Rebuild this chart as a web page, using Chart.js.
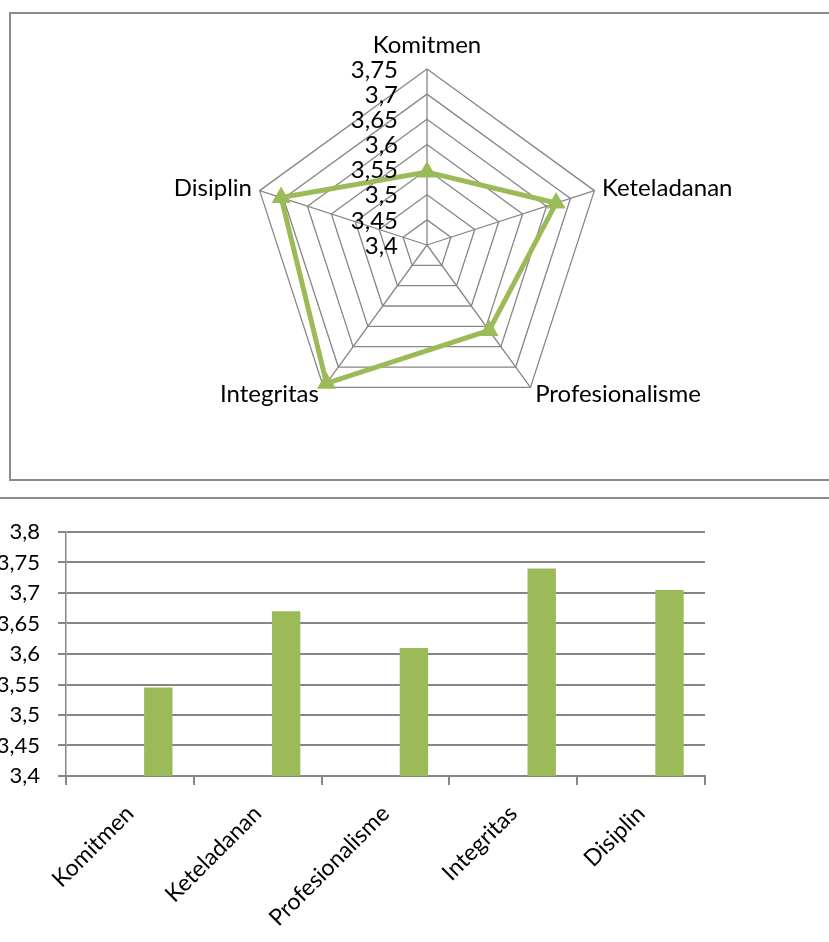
<!DOCTYPE html>
<html>
<head>
<meta charset="utf-8">
<script src="https://cdn.jsdelivr.net/npm/chart.js@4.4.1/dist/chart.umd.min.js"></script>
<style>
  body { margin: 0; background: #fff; width: 829px; height: 942px; overflow: hidden; position: relative; }
  #radarBox { position: absolute; left: 9px; top: 12px; width: 840px; height: 469px; border: 2px solid #8c8c8c; box-sizing: border-box; }
  #barLine { position: absolute; left: 0; top: 497px; width: 829px; border-top: 2px solid #8c8c8c; }
  #radarChart { position: absolute; left: 0; top: 0; }
  #barChart { position: absolute; left: 0; top: 500px; }
</style>
</head>
<body>
<div id="radarBox"></div>
<div id="barLine"></div>
<canvas id="radarChart" width="829" height="480"></canvas>
<canvas id="barChart" width="829" height="442"></canvas>
<script>
const categories = ['Komitmen', 'Keteladanan', 'Profesionalisme', 'Integritas', 'Disiplin'];
const scores = [3.545, 3.67, 3.61, 3.74, 3.705];
const emptySeries = [null, null, null, null, null];
const radarTicks = [3.4, 3.45, 3.5, 3.55, 3.6, 3.65, 3.7, 3.75];
const radarTickLabels = ['3,4', '3,45', '3,5', '3,55', '3,6', '3,65', '3,7', '3,75'];
const barTickLabels = ['3,4', '3,45', '3,5', '3,55', '3,6', '3,65', '3,7', '3,75', '3,8'];

const GREEN = '#9BBB59';
const GRID = '#868686';
const FONT = 'Lato';

// Excel-style labels for the radar: values left of the top spoke, names outside the vertices
const radarLabels = {
  id: 'radarLabels',
  afterDatasetsDraw(chart) {
    const r = chart.scales.r;
    const ctx = chart.ctx;
    ctx.save();
    ctx.font = '24px ' + FONT;
    ctx.fillStyle = '#000';
    ctx.textAlign = 'right';
    ctx.textBaseline = 'middle';
    radarTicks.forEach((v, i) => {
      ctx.fillText(radarTickLabels[i], r.xCenter - 29, r.yCenter - r.getDistanceFromCenterForValue(v) + 1);
    });
    categories.forEach((name, i) => {
      const p = r.getPointPosition(i, r.drawingArea + 8);
      if (Math.abs(p.x - r.xCenter) < 2) {
        ctx.textAlign = 'center';
        ctx.textBaseline = 'alphabetic';
        ctx.fillText(name, p.x, p.y - 8);
      } else {
        ctx.textAlign = p.x > r.xCenter ? 'left' : 'right';
        ctx.textBaseline = 'middle';
        ctx.fillText(name, p.x, p.y);
      }
    });
    ctx.restore();
  }
};

new Chart(document.getElementById('radarChart'), {
  type: 'radar',
  data: {
    labels: categories,
    datasets: [{
      data: scores,
      borderColor: GREEN,
      backgroundColor: GREEN,
      borderWidth: 5,
      fill: false,
      pointStyle: 'triangle',
      pointRadius: 9,
      pointBorderWidth: 2,
      pointBackgroundColor: GREEN,
      pointBorderColor: GREEN,
    }],
  },
  options: {
    responsive: false,
    animation: false,
    layout: { padding: { left: 251, top: 69, right: 226, bottom: 59 } },
    plugins: { legend: { display: false }, tooltip: { enabled: false } },
    scales: {
      r: {
        min: 3.4,
        max: 3.75,
        ticks: { stepSize: 0.05, display: false },
        pointLabels: { display: false },
        grid: { color: GRID, lineWidth: 1.3 },
        angleLines: { color: GRID, lineWidth: 1.3 },
      },
    },
  },
  plugins: [radarLabels],
});

new Chart(document.getElementById('barChart'), {
  type: 'bar',
  data: {
    labels: categories,
    datasets: [
      { data: emptySeries, backgroundColor: '#4F81BD' },
      { data: emptySeries, backgroundColor: '#C0504D' },
      { data: scores, backgroundColor: GREEN },
    ],
  },
  options: {
    responsive: false,
    animation: false,
    layout: { padding: { top: 32, right: 124, left: 0, bottom: 0 } },
    plugins: { legend: { display: false }, tooltip: { enabled: false } },
    datasets: { bar: { categoryPercentage: 0.667, barPercentage: 1 } },
    scales: {
      x: {
        grid: { offset: true, drawOnChartArea: false, drawTicks: true, tickLength: 9, color: GRID, lineWidth: 2 },
        border: { color: GRID, width: 2 },
        ticks: { minRotation: 45, maxRotation: 45, padding: 15, color: '#000', font: { size: 23, family: FONT } },
        afterFit: (s) => { s.height = 166; },
      },
      y: {
        min: 3.4,
        max: 3.8,
        ticks: {
          stepSize: 0.05,
          padding: 18,
          color: '#000',
          font: { size: 22, family: FONT },
          callback: (v, i) => barTickLabels[i],
        },
        grid: { color: GRID, lineWidth: 2, drawTicks: true, tickLength: 8 },
        border: { color: GRID, width: 1.5 },
        afterFit: (s) => { s.width = 66; },
      },
    },
  },
});
</script>
</body>
</html>
